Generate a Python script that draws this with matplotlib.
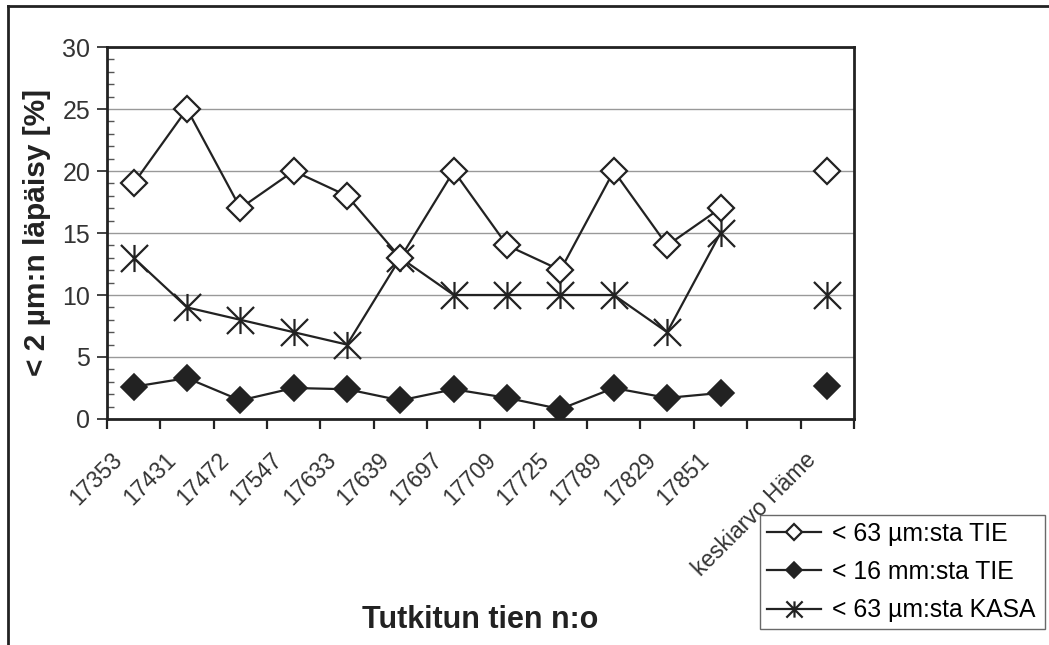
import numpy as np
import matplotlib.pyplot as plt
from matplotlib.path import Path
from matplotlib.lines import Line2D
from matplotlib.transforms import ScaledTranslation

plt.rcParams['font.family'] = ['Liberation Sans', 'DejaVu Sans']

roads = ['17353', '17431', '17472', '17547', '17633', '17639', '17697',
         '17709', '17725', '17789', '17829', '17851', '', 'keskiarvo Häme']

tie_63um = [19, 25, 17, 20, 18, 13, 20, 14, 12, 20, 14, 17, np.nan, 20]
tie_16mm = [2.6, 3.3, 1.5, 2.5, 2.4, 1.5, 2.4, 1.7, 0.8, 2.5, 1.7, 2.1, np.nan, 2.7]
kasa_63um = [13, 9, 8, 7, 6, 13, 10, 10, 10, 10, 7, 15, np.nan, 10]

dark = '#222222'

# asterisk marker: vertical bar plus an X
star = Path([(0, -1), (0, 1), (-1, -1), (1, 1), (-1, 1), (1, -1)],
            [Path.MOVETO, Path.LINETO, Path.MOVETO, Path.LINETO, Path.MOVETO, Path.LINETO])

fig = plt.figure(figsize=(10.49, 6.45), dpi=100)
ax = fig.add_axes([0.102, 0.3504, 0.712, 0.5767])

x = np.arange(len(roads))

ax.plot(x, tie_63um, color=dark, lw=1.6, marker='D', ms=13.5,
        mfc='white', mec=dark, mew=1.6, label='< 63 µm:sta TIE', zorder=4)
ax.plot(x, tie_16mm, color=dark, lw=1.6, marker='D', ms=13,
        mfc=dark, mec=dark, mew=1.2, label='< 16 mm:sta TIE', zorder=4)
ax.plot(x, kasa_63um, color=dark, lw=1.6, marker=star, ms=19.5,
        mfc='none', mec=dark, mew=1.6, label='< 63 µm:sta KASA', zorder=3)

ax.set_xlim(-0.5, len(roads) - 0.5)
ax.set_ylim(0, 30)
ax.set_yticks(np.arange(0, 31, 5))
ax.set_yticks(np.arange(0, 31, 1), minor=True)
ax.set_xticks(np.arange(-0.5, len(roads), 1))
ax.set_xticklabels([])
ax.set_xticks(x, minor=True)
ax.set_xticklabels(roads, minor=True, rotation=45, ha='right', va='top',
                   rotation_mode='anchor', fontsize=16.5, color='#333333')
ax.tick_params(axis='x', which='minor', length=0, pad=21)
ax.tick_params(axis='x', which='major', length=7, width=1.6, color=dark)
ax.tick_params(axis='y', which='major', length=7, width=1.2, color=dark,
               labelsize=18, labelcolor='#333333', pad=5)
ax.tick_params(axis='y', which='minor', direction='in', length=5, width=1, color='#555555')

# nudge the slanted category labels to the left
shift = ScaledTranslation(-0.23, 0, fig.dpi_scale_trans)
for lbl in ax.get_xticklabels(minor=True):
    lbl.set_transform(lbl.get_transform() + shift)

ax.yaxis.grid(True, which='major', color='#999999', lw=1)
ax.set_axisbelow(True)
for sp in ax.spines.values():
    sp.set_color(dark)
    sp.set_linewidth(2)

fig.text(0.0353, 0.639, '< 2 µm:n läpäisy [%]', rotation=90, ha='center', va='center',
         fontsize=21.5, fontweight='bold', color=dark)
fig.text(0.4576, 0.039, 'Tutkitun tien n:o', ha='center', va='center',
         fontsize=22, fontweight='bold', color=dark)

leg = fig.legend(loc='lower left', bbox_to_anchor=(0.7245, 0.0248, 0.2717, 0.175),
                 mode='expand', fontsize=17.8, frameon=True, fancybox=False,
                 handlelength=2.2, handletextpad=0.45, borderpad=0.27, labelspacing=0.58,
                 borderaxespad=0)
leg.get_frame().set_edgecolor('#444444')
leg.get_frame().set_linewidth(1)
for h in leg.legend_handles:
    h.set_markersize(h.get_markersize() * 0.6)

# outer frame of the figure (top and left edges)
fig.add_artist(Line2D([0.0078, 0.0078], [0, 0.9907], transform=fig.transFigure, color=dark, lw=2))
fig.add_artist(Line2D([0.0078, 1.0], [0.9907, 0.9907], transform=fig.transFigure, color=dark, lw=2))

fig.savefig('out.png', dpi=100)
